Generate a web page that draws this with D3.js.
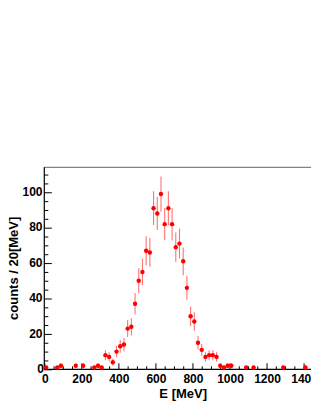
<!DOCTYPE html>
<html>
<head>
<meta charset="utf-8">
<script src="https://cdn.jsdelivr.net/npm/d3@7"></script>
<style>
  html, body { margin: 0; padding: 0; background: #fff; }
  svg { display: block; }
  text { font-family: "Liberation Sans", Arial, Helvetica, sans-serif; font-weight: bold; fill: #000; }
</style>
</head>
<body>
<svg id="chart" width="311" height="402"></svg>
<script>
// Bin centres (MeV) of non-empty 20 MeV bins
const energies = [10,70,90,170,210,270,290,310,330,350,370,390,410,430,450,470,490,510,530,550,570,590,610,630,650,670,690,710,730,750,770,790,810,830,850,870,890,910,930,950,970,990,1010,1090,1130,1290,1410];
// Counts per bin
const counts = [1,1,2,2,2,1,2,1,8,7,4,10,13,14,23,24,37,50,55,67,66,91,88,99,82,91,82,69,71,61,46,30,27,15,11,7,8,8,7,2,1,2,2,1,1,1,1];
const xTickLabels = [0,200,400,600,800,1000,1200,1400];
const yTickLabels = [0,20,40,60,80,100];
const xTitle = "E [MeV]";
const yTitle = "counts / 20[MeV]";

const svg = d3.select("#chart");
const pLeft = 44.3, pRight = 322.1, pTop = 167.3, pBottom = 369.3;

const x = d3.scaleLinear().domain([0, 1500]).range([pLeft, pRight]);
const y = d3.scaleLinear().domain([0, 114.1]).range([pBottom, pTop]);

const data = energies.map((e, i) => ({ e, n: counts[i], err: Math.sqrt(counts[i]) }));

// frame top
svg.append("line").attr("x1", pLeft).attr("x2", 311).attr("y1", pTop).attr("y2", pTop)
  .attr("stroke", "#666").attr("stroke-width", 1);

// x axis (ticks inside, pointing up)
const xMinor = d3.range(0, 1501, 50).filter(v => v % 200 !== 0);
const xAxis = d3.axisTop(x).tickValues(xTickLabels).tickSize(6).tickFormat("");
const gx = svg.append("g").attr("transform", `translate(0,${pBottom})`).call(xAxis);
gx.select(".domain").remove();
gx.selectAll(".tick line").attr("stroke", "#000");
const xAxisMinor = d3.axisTop(x).tickValues(xMinor).tickSize(3).tickFormat("");
const gxm = svg.append("g").attr("transform", `translate(0,${pBottom})`).call(xAxisMinor);
gxm.select(".domain").remove();
gxm.selectAll(".tick line").attr("stroke", "#000");
svg.append("line").attr("x1", pLeft).attr("x2", 311).attr("y1", pBottom).attr("y2", pBottom)
  .attr("stroke", "#000").attr("stroke-width", 1.2);

// x labels
svg.append("g").selectAll("text").data(xTickLabels).join("text")
  .attr("x", d => x(d) + 1).attr("y", 382.5)
  .attr("text-anchor", "middle").attr("font-size", 12).text(d => d);

// y axis (ticks inside, pointing right)
const yMinor = d3.range(0, 114, 5).filter(v => v % 20 !== 0);
const yAxis = d3.axisRight(y).tickValues(yTickLabels).tickSize(7.5).tickFormat("");
const gy = svg.append("g").attr("transform", `translate(${pLeft},0)`).call(yAxis);
gy.select(".domain").remove();
gy.selectAll(".tick line").attr("stroke", "#000");
const yAxisMinor = d3.axisRight(y).tickValues(yMinor).tickSize(4).tickFormat("");
const gym = svg.append("g").attr("transform", `translate(${pLeft},0)`).call(yAxisMinor);
gym.select(".domain").remove();
gym.selectAll(".tick line").attr("stroke", "#000");
svg.append("line").attr("x1", pLeft).attr("x2", pLeft).attr("y1", pTop).attr("y2", pBottom)
  .attr("stroke", "#000").attr("stroke-width", 1.2);

// y labels
svg.append("g").selectAll("text").data(yTickLabels).join("text")
  .attr("x", d => d === 0 ? 44 : 42.5).attr("y", d => y(d) + 0.5)
  .attr("text-anchor", "end").attr("dominant-baseline", "middle")
  .attr("font-size", 12).text(d => d);

// titles
svg.append("text").attr("x", (pLeft + pRight) / 2).attr("y", 398)
  .attr("text-anchor", "middle").attr("font-size", 13).text(xTitle);
svg.append("text").attr("transform", `translate(17.5,${(pTop + pBottom) / 2}) rotate(-90)`)
  .attr("text-anchor", "middle").attr("font-size", 13).text(yTitle);

// error bars
svg.append("g").selectAll("line").data(data).join("line")
  .attr("x1", d => x(d.e)).attr("x2", d => x(d.e))
  .attr("y1", d => y(d.n - d.err)).attr("y2", d => y(d.n + d.err))
  .attr("stroke", "#ff5a5a").attr("stroke-width", 1.1).attr("stroke-opacity", 0.85);

// markers
svg.append("g").selectAll("circle").data(data).join("circle")
  .attr("cx", d => x(d.e)).attr("cy", d => y(d.n)).attr("r", 2.2)
  .attr("fill", "#ff0000");
</script>
</body>
</html>
